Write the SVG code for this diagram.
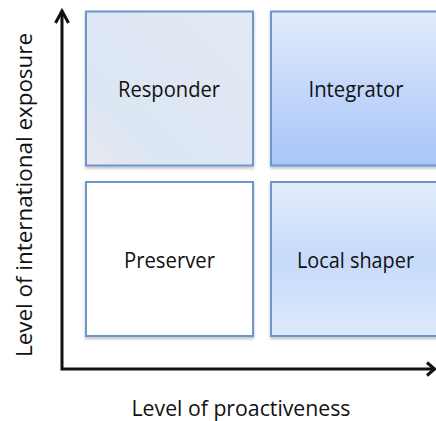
<svg xmlns="http://www.w3.org/2000/svg" width="436" height="421" viewBox="0 0 436 421">
<style>
.box{stroke:#6c96cc;stroke-width:2}
.lbl{font-family:"Open Sans","Liberation Sans",sans-serif;font-size:22px;fill:#111;text-anchor:middle}
.axis{stroke:#111;stroke-width:3;fill:none}
</style>
<defs>
<linearGradient id="gResp" x1="0" y1="1" x2="1" y2="0">
<stop offset="0" stop-color="#e8e8ee"/>
<stop offset="0.25" stop-color="#dce6f3"/>
<stop offset="1" stop-color="#e3e9f5"/>
</linearGradient>
<linearGradient id="gInt" x1="0" y1="0" x2="0" y2="1">
<stop offset="0" stop-color="#e3ecfd"/>
<stop offset="0.5" stop-color="#c3d7fb"/>
<stop offset="1" stop-color="#a9c6f8"/>
</linearGradient>
<linearGradient id="gLoc" x1="0" y1="0" x2="0" y2="1">
<stop offset="0" stop-color="#e3edfd"/>
<stop offset="0.5" stop-color="#c6dafa"/>
<stop offset="1" stop-color="#dde9fc"/>
</linearGradient>
<filter id="sh" x="-10%" y="-10%" width="130%" height="130%">
<feDropShadow dx="0" dy="2" stdDeviation="1.5" flood-color="#000" flood-opacity="0.25"/>
</filter>
</defs>
<g id="responder">
<rect class="box" x="86" y="11.5" width="167" height="154" fill="url(#gResp)" filter="url(#sh)"/>
<text class="lbl" x="169" y="97" textLength="102" lengthAdjust="spacingAndGlyphs">Responder</text>
</g>
<g id="integrator">
<rect class="box" x="271" y="11.5" width="175" height="154" fill="url(#gInt)" filter="url(#sh)"/>
<text class="lbl" x="356" y="97" textLength="95" lengthAdjust="spacingAndGlyphs">Integrator</text>
</g>
<g id="preserver">
<rect class="box" x="86" y="182" width="167" height="154" fill="#ffffff" filter="url(#sh)"/>
<text class="lbl" x="169.5" y="268" textLength="91" lengthAdjust="spacingAndGlyphs">Preserver</text>
</g>
<g id="local-shaper">
<rect class="box" x="271" y="182" width="175" height="154" fill="url(#gLoc)" filter="url(#sh)"/>
<text class="lbl" x="355.5" y="268" textLength="117" lengthAdjust="spacingAndGlyphs">Local shaper</text>
</g>
<g id="axes">
<polyline class="axis" points="62,12 62,369 434,369"/>
<polyline class="axis" points="55.5,23 62,11 68.5,23"/>
<polyline class="axis" points="427,362.5 434.5,369 427,375.5"/>
</g>
<g id="axis-labels">
<text class="lbl" x="241" y="416" textLength="219" lengthAdjust="spacingAndGlyphs">Level of proactiveness</text>
<text class="lbl" transform="translate(32,195) rotate(-90)" x="0" y="0" textLength="324" lengthAdjust="spacingAndGlyphs">Level of international exposure</text>
</g>
</svg>
